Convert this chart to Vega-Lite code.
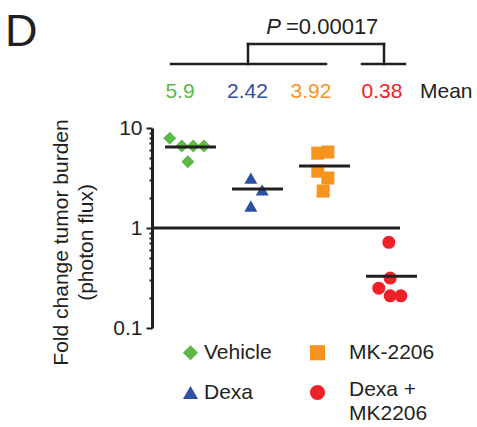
{
  "$schema": "https://vega.github.io/schema/vega-lite/v6.json",
  "width": 273,
  "height": 200,
  "autosize": {"type": "none"},
  "padding": {"left": 152, "top": 128, "right": 52, "bottom": 99},
  "background": "white",
  "config": {"view": {"stroke": null}, "font": "Liberation Sans"},
  "title": {"text": "D", "anchor": "start", "frame": "group", "fontSize": 45, "fontWeight": "normal", "font": "Liberation Sans", "color": "#231f20", "dx": -147, "dy": 79, "baseline": "alphabetic"},
  "datasets": {
    "points": [
      {"group": "Vehicle", "x": 0.69, "y": 7.9},
      {"group": "Vehicle", "x": 0.87, "y": 6.6},
      {"group": "Vehicle", "x": 1.04, "y": 6.6},
      {"group": "Vehicle", "x": 1.2, "y": 6.6},
      {"group": "Vehicle", "x": 0.96, "y": 4.6},
      {"group": "Dexa", "x": 1.9, "y": 3.16},
      {"group": "Dexa", "x": 2.07, "y": 2.4},
      {"group": "Dexa", "x": 1.9, "y": 1.66},
      {"group": "MK-2206", "x": 2.9, "y": 5.6},
      {"group": "MK-2206", "x": 3.05, "y": 5.75},
      {"group": "MK-2206", "x": 2.9, "y": 3.7},
      {"group": "MK-2206", "x": 3.05, "y": 3.16},
      {"group": "MK-2206", "x": 2.98, "y": 2.34},
      {"group": "Dexa + MK2206", "x": 3.96, "y": 0.72},
      {"group": "Dexa + MK2206", "x": 3.98, "y": 0.316},
      {"group": "Dexa + MK2206", "x": 3.81, "y": 0.25},
      {"group": "Dexa + MK2206", "x": 3.98, "y": 0.21},
      {"group": "Dexa + MK2206", "x": 4.14, "y": 0.21}
    ],
    "meanlines": [
      {"group": "Vehicle", "x": 0.62, "x2": 1.38, "y": 6.46},
      {"group": "Dexa", "x": 1.62, "x2": 2.38, "y": 2.45},
      {"group": "MK-2206", "x": 2.62, "x2": 3.38, "y": 4.17},
      {"group": "Dexa + MK2206", "x": 3.62, "x2": 4.38, "y": 0.33}
    ],
    "baseline": [{"x": 0.425, "x2": 4.127, "y": 1}],
    "bracket": [
      {"x": 0.709, "x2": 3.022, "y": 43.65, "y2": 43.65},
      {"x": 3.56, "x2": 4.201, "y": 43.65, "y2": 43.65},
      {"x": 1.858, "x2": 1.858, "y": 43.65, "y2": 69.2},
      {"x": 3.888, "x2": 3.888, "y": 43.65, "y2": 69.2},
      {"x": 1.858, "x2": 3.888, "y": 69.2, "y2": 69.2}
    ],
    "means": [
      {"group": "Vehicle", "label": "5.9", "x": 0.843, "y": 20},
      {"group": "Dexa", "label": "2.42", "x": 1.851, "y": 20},
      {"group": "MK-2206", "label": "3.92", "x": 2.799, "y": 20},
      {"group": "Dexa + MK2206", "label": "0.38", "x": 3.858, "y": 20}
    ],
    "meanword": [{"label": "Mean", "x": 4.425, "y": 20}],
    "pletter": [{"label": "P", "x": 2.351, "y": 87.1}],
    "pvalue": [{"label": "=0.00017", "x": 2.425, "y": 87.1}]
  },
  "encoding": {
    "x": {"field": "x", "type": "quantitative", "scale": {"domain": [0.425, 4.5], "nice": false, "zero": false}, "axis": null},
    "y": {
      "field": "y", "type": "quantitative",
      "scale": {"type": "log", "domain": [0.1, 10], "nice": false},
      "axis": {
        "title": ["Fold change tumor burden", "(photon flux)"],
        "titleFont": "Liberation Sans", "titleFontSize": 21, "titleFontWeight": "normal", "titleColor": "#231f20",
        "titleLineHeight": 25, "titlePadding": 16, "titleY": 114,
        "values": [0.1, 0.2, 0.3, 0.4, 0.5, 0.6, 0.7, 0.8, 0.9, 1, 2, 3, 4, 5, 6, 7, 8, 9, 10],
        "format": "~g",
        "labelExpr": "datum.value == 0.1 || datum.value == 1 || datum.value == 10 ? datum.label : ''",
        "labelFont": "Liberation Sans", "labelFontSize": 21, "labelColor": "#231f20", "labelPadding": 4,
        "tickSize": {"condition": {"test": "datum.value == 0.1 || datum.value == 1 || datum.value == 10", "value": 6}, "value": 3},
        "tickWidth": 2, "tickColor": "#231f20",
        "domainColor": "#231f20", "domainWidth": 3,
        "grid": false, "labelFlush": false, "labelOverlap": false
      }
    }
  },
  "layer": [
    {
      "data": {"name": "baseline"},
      "mark": {"type": "rule", "color": "#231f20", "strokeWidth": 3},
      "encoding": {"x2": {"field": "x2"}}
    },
    {
      "data": {"name": "points"},
      "mark": {"type": "point", "filled": true, "opacity": 1, "size": 170},
      "encoding": {
        "color": {
          "field": "group", "type": "nominal",
          "scale": {"domain": ["Vehicle", "Dexa", "MK-2206", "Dexa + MK2206"], "range": ["#5cb847", "#2e50a2", "#f7941d", "#ee2028"]},
          "legend": {
            "orient": "none", "legendX": 28, "legendY": 214, "columns": 2, "title": null,
            "labelFont": "Liberation Sans", "labelFontSize": 21, "labelColor": "#231f20", "labelOffset": 3,
            "symbolSize": 230, "symbolOpacity": 1, "symbolStrokeWidth": 0,
            "rowPadding": 15, "columnPadding": 35, "labelLimit": 300,
            "labelExpr": "datum.label == 'Dexa + MK2206' ? ['Dexa +', 'MK2206'] : datum.label",
            "encode": {"labels": {"update": {"dx": {"signal": "datum.index >= 2 ? 18 : 0"}, "dy": {"signal": "datum.index == 3 ? -3 : 0"}, "lineHeight": {"value": 24}}}}
          }
        },
        "shape": {
          "field": "group", "type": "nominal",
          "scale": {"domain": ["Vehicle", "Dexa", "MK-2206", "Dexa + MK2206"], "range": ["diamond", "triangle-up", "square", "circle"]}
        }
      }
    },
    {
      "data": {"name": "meanlines"},
      "mark": {"type": "rule", "color": "#231f20", "strokeWidth": 3},
      "encoding": {"x2": {"field": "x2"}}
    },
    {
      "data": {"name": "bracket"},
      "mark": {"type": "rule", "color": "#231f20", "strokeWidth": 2.5, "strokeCap": "square"},
      "encoding": {"x2": {"field": "x2"}, "y2": {"field": "y2"}}
    },
    {
      "data": {"name": "means"},
      "mark": {"type": "text", "font": "Liberation Sans", "fontSize": 21, "align": "center", "baseline": "alphabetic"},
      "encoding": {
        "text": {"field": "label"},
        "color": {"field": "group", "type": "nominal"}
      }
    },
    {
      "data": {"name": "meanword"},
      "mark": {"type": "text", "font": "Liberation Sans", "fontSize": 21, "align": "left", "baseline": "alphabetic", "color": "#231f20"},
      "encoding": {"text": {"field": "label"}}
    },
    {
      "data": {"name": "pletter"},
      "mark": {"type": "text", "font": "Liberation Sans", "fontSize": 22, "fontStyle": "italic", "align": "right", "baseline": "alphabetic", "color": "#231f20"},
      "encoding": {"text": {"field": "label"}}
    },
    {
      "data": {"name": "pvalue"},
      "mark": {"type": "text", "font": "Liberation Sans", "fontSize": 22, "align": "left", "baseline": "alphabetic", "color": "#231f20"},
      "encoding": {"text": {"field": "label"}}
    }
  ]
}
